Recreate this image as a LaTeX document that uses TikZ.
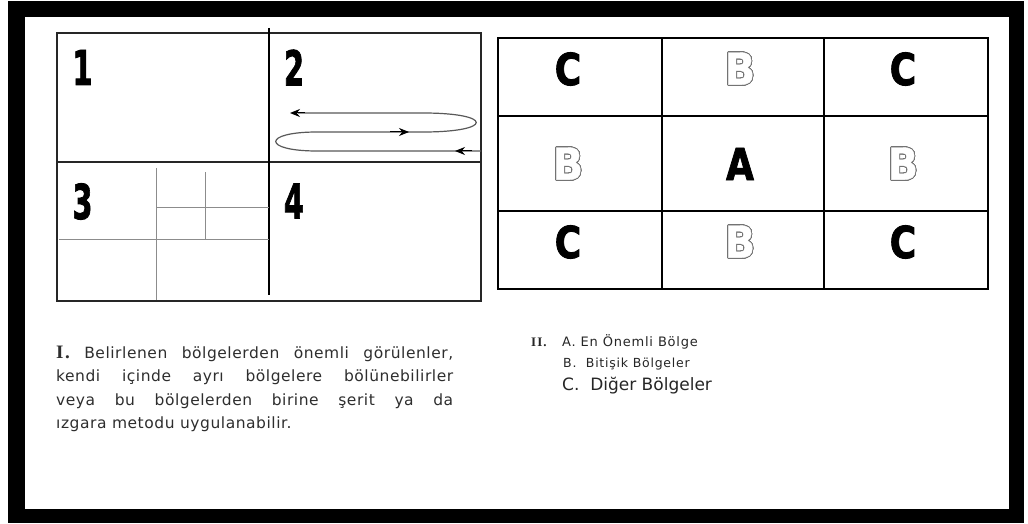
\documentclass[tikz,border=0pt]{standalone}
\usepackage{fontspec}
\setmainfont{DejaVu Sans}
\newfontfamily\serifI{Liberation Serif}[UprightFont=*-Bold,LetterSpace=8]
\newfontfamily\heavyfont{DejaVu Sans}[UprightFont=*-Bold,FakeBold=2]
\newfontfamily\outfont{DejaVu Sans}[UprightFont=*-Bold,FakeBold=1]
\newfontfamily\bodyfont{DejaVu Sans}[LetterSpace=3.5]
\newfontfamily\listfont{DejaVu Sans}[LetterSpace=6]
\usepackage[copies]{contour}
\contourlength{0.9pt}
\contournumber{32}
\usetikzlibrary{arrows.meta}
\tikzset{
  frameline/.style={line width=2pt,draw=black!85},
  tabline/.style={line width=2pt,draw=black},
  gridline/.style={line width=0.9pt,draw=black!45},
  loopline/.style={line width=1.2pt,draw=black!65},
  tipseg/.style={-{Stealth[length=10pt,width=8pt]},line width=1pt,draw=black},
  digit/.style={inner sep=0pt,font=\heavyfont\fontsize{48}{48}\selectfont},
  letter/.style={inner sep=0pt,font=\heavyfont\fontsize{44}{44}\selectfont},
  outletter/.style={inner sep=0pt,font=\outfont\fontsize{44}{44}\selectfont},
}
\newcommand{\narrowdig}[1]{\scalebox{0.6}[1]{#1}}
\newcommand{\narrowlet}[1]{\scalebox{0.82}[1]{#1}}
\newcommand{\outlet}[1]{\scalebox{0.9}[1]{\contour{black!55}{\color{white}#1}}}
\begin{document}
\begin{tikzpicture}[x=1pt,y=-1pt]
\useasboundingbox (0,0) rectangle (1028,524);
\fill[white] (0,0) rectangle (1028,524);
% black frame
\fill[black] (8,1) rectangle (1024,523);
\fill[white] (25,17) rectangle (1009,509);

% ---- left panel ----
\draw[frameline] (57,33) rectangle (481,301);
\draw[frameline] (57,162) -- (481,162);
\draw[line width=2.2pt] (269,28) -- (269,295);
% grid in 3
\draw[gridline] (156,168) -- (156,300);
\draw[gridline] (205,172) -- (205,239);
\draw[gridline] (156,207) -- (269,207);
\draw[gridline] (59,239) -- (269,239);
% digits
\node[digit] (d1) at (82.5,67.5) {\narrowdig{1}};
\node[digit] (d2) at (294,67.5) {\narrowdig{2}};
\node[digit] (d3) at (82.5,201.5) {\narrowdig{3}};
\node[digit] (d4) at (294,201) {\narrowdig{4}};
% serpentine path in 2
\coordinate (s0) at (481,151);
\coordinate (s1) at (317,151);
\coordinate (s2) at (317,132);
\coordinate (s3) at (423,132);
\coordinate (s4) at (423,113);
\coordinate (s5) at (298,113);
\draw[loopline] (s0) -- (s1) .. controls (262,151) and (262,132) .. (s2)
  -- (s3) .. controls (494,132) and (494,113) .. (s4) -- (s5);
\coordinate (t0a) at (472,151); \coordinate (t0b) at (455,151);
\coordinate (t1a) at (390,132); \coordinate (t1b) at (409,132);
\coordinate (t2a) at (305,113); \coordinate (t2b) at (290,113);
\draw[tipseg] (t0a) -- (t0b);
\draw[tipseg] (t1a) -- (t1b);
\draw[tipseg] (t2a) -- (t2b);

% ---- right table ----
\draw[tabline] (498,38) rectangle (988,289);
\draw[tabline] (662,38) -- (662,289);
\draw[tabline] (824,38) -- (824,289);
\draw[tabline] (498,116) -- (988,116);
\draw[tabline] (498,211) -- (988,211);
\node[letter] (c11) at (568,69) {\narrowlet{C}};
\node[outletter] (b12) at (740,69) {\outlet{B}};
\node[letter] (c13) at (903,69) {\narrowlet{C}};
\node[outletter] (b21) at (568,164) {\outlet{B}};
\node[letter] (a22) at (740,164) {\narrowlet{A}};
\node[outletter] (b23) at (903,164) {\outlet{B}};
\node[letter] (c31) at (568,242) {\narrowlet{C}};
\node[outletter] (b32) at (740,242) {\outlet{B}};
\node[letter] (c33) at (903,242) {\narrowlet{C}};

% ---- texts ----
\node[anchor=north west,inner sep=0pt,text width=397pt,align=justify,
      text=black!82,font=\bodyfont\fontsize{15.5}{23.3}\selectfont] (txtI) at (56,346)
 {{\serifI\fontsize{19}{23.3}\selectfont I.}\ Belirlenen bölgelerden önemli görülenler,\linebreak
  kendi içinde ayrı bölgelere bölünebilirler\linebreak
  veya bu bölgelerden birine şerit ya da\linebreak
  ızgara metodu uygulanabilir.};
\node[anchor=base west,inner sep=0pt,text=black!85,font=\serifI\fontsize{13}{13}\selectfont] (txtII) at (531,346) {II.};
\node[anchor=base west,inner sep=0pt,text=black!85,font=\listfont\fontsize{13}{13}\selectfont] (la) at (562,346) {A. En Önemli Bölge};
\node[anchor=base west,inner sep=0pt,text=black!85,font=\listfont\fontsize{12.5}{12.5}\selectfont] (lb) at (563,367) {B.\ \ Bitişik Bölgeler};
\node[anchor=base west,inner sep=0pt,text=black!85,font=\fontsize{17}{17}\selectfont] (lc) at (562,390) {C.\ \ Diğer Bölgeler};
\end{tikzpicture}
\end{document}
